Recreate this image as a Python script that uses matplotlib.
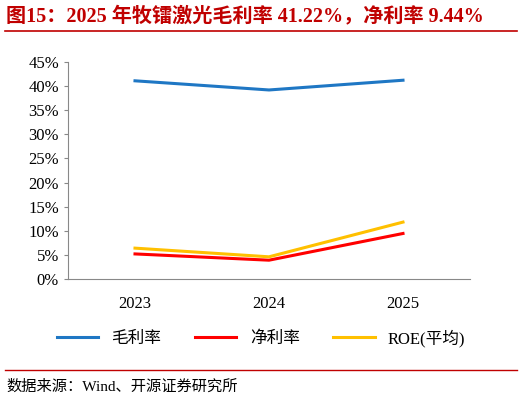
import matplotlib
matplotlib.use("Agg")
import matplotlib.pyplot as plt
from matplotlib.ticker import PercentFormatter

years = ["2023", "2024", "2025"]
gross = [41.1, 39.2, 41.22]
net = [5.2, 3.9, 9.44]
roe = [6.4, 4.6, 11.8]

plt.rcParams['font.family'] = ['Liberation Serif', 'Noto Sans CJK SC']
fig = plt.figure(figsize=(5.22, 4.05), dpi=100)
ax = fig.add_axes([68/522, 1-279/405, (470-68)/522, (279-62)/405])
x = range(len(years))
ax.plot(x, gross, color='#1F77C4', lw=2.2, label='毛利率')
ax.plot(x, net, color='#FF0000', lw=2.2, label='净利率')
ax.plot(x, roe, color='#FFC000', lw=2.2, label='ROE(平均)')
ax.set_xlim(-0.5, 2.5)
ax.set_ylim(0, 45)
ax.set_yticks(range(0, 46, 5))
ax.yaxis.set_major_formatter(PercentFormatter(decimals=0))
ax.set_xticks(list(x))
ax.set_xticklabels(years)
for s in ['top', 'right']:
    ax.spines[s].set_visible(False)
ax.spines['left'].set_color('#888888')
ax.spines['bottom'].set_color('#888888')
ax.tick_params(labelsize=12, length=3, color='#888888')
ax.tick_params(axis='x', length=0, pad=12)
fig.legend(loc='center', bbox_to_anchor=(0.5, 1-338/405), ncol=3, frameon=False,
           fontsize=12, handlelength=2.5, columnspacing=2)
fig.text(0.012, 1-16/405, "图15：2025 年牧镭激光毛利率 41.22%，净利率 9.44%",
         fontsize=14.5, fontweight='bold', va='center', color='#C00000')
fig.add_artist(plt.Line2D([0.01, 0.99], [1-31/405]*2, color='#C00000', lw=1.2))
fig.add_artist(plt.Line2D([0.01, 0.99], [1-370/405]*2, color='#C00000', lw=1.0))
fig.text(0.012, 1-387/405, "数据来源：Wind、开源证券研究所", fontsize=11, va='center')
fig.savefig("out.png", dpi=100)
